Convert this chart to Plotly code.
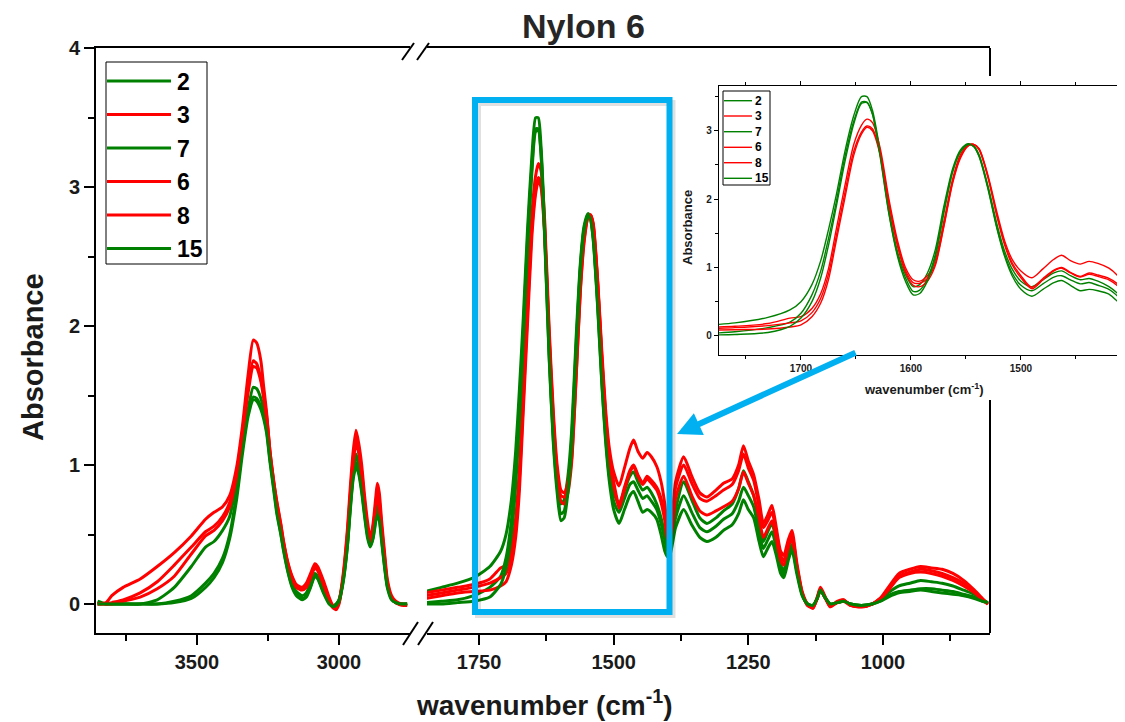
import plotly.graph_objects as go

W, H = 1125, 722
FONT = "Liberation Sans, Arial, sans-serif"
OFF = 8  # page body margin in the browser


def px(x):
    return (x - OFF) / W


def py(y):
    return 1 - (y - OFF) / H


# ---------------- data ----------------
NAMES = ["2", "3", "7", "6", "8", "15"]
COLORS = ["#008000", "#FF0000", "#008000", "#FF0000", "#FF0000", "#008000"]

LEFT_WN = [3850, 3820, 3800, 3760, 3700, 3640, 3580, 3520, 3470, 3440, 3410, 3385, 3360, 3340, 3320,
           3302, 3290, 3275, 3265, 3255, 3243, 3230, 3219, 3205, 3195, 3180, 3165, 3150, 3130, 3115,
           3100, 3085, 3075, 3055, 3035, 3020, 3010, 3000, 2985, 2970, 2960, 2950, 2940, 2930, 2920,
           2910, 2900, 2890, 2880, 2870, 2865, 2858, 2850, 2840, 2830, 2815, 2800, 2780, 2760]

RIGHT_WN = [1850, 1820, 1790, 1760, 1730, 1710, 1700, 1690, 1682, 1675, 1668, 1660, 1652, 1645, 1640,
            1635, 1628, 1620, 1612, 1605, 1598, 1592, 1585, 1578, 1570, 1562, 1555, 1548, 1543, 1538,
            1530, 1522, 1515, 1508, 1500, 1490, 1480, 1470, 1463, 1455, 1446, 1438, 1430, 1420, 1412,
            1405, 1400, 1395, 1385, 1370, 1355, 1340, 1327, 1310, 1296, 1280, 1268, 1259, 1250, 1240,
            1230, 1222, 1214, 1206, 1198, 1190, 1184, 1176, 1169, 1160, 1150, 1140, 1130, 1122, 1116,
            1108, 1098, 1085, 1073, 1060, 1040, 1020, 1005, 990, 970, 950, 930, 910, 890, 870,
            850, 830, 815, 805]

S2_LEFT = [0.02, 0.00, 0.00, 0.00, 0.00, 0.03, 0.12, 0.27, 0.41, 0.45, 0.53, 0.63, 0.88, 1.12, 1.40,
           1.56, 1.55, 1.48, 1.40, 1.29, 1.06, 0.86, 0.69, 0.53, 0.41, 0.26, 0.15, 0.09, 0.06, 0.08,
           0.15, 0.22, 0.20, 0.10, 0.02, -0.01, 0.00, 0.03, 0.18, 0.45, 0.72, 0.95, 1.08, 1.00, 0.86,
           0.68, 0.52, 0.43, 0.50, 0.66, 0.72, 0.66, 0.50, 0.30, 0.14, 0.04, 0.01, 0.00, 0.00]
S3_LEFT = [0.00, 0.01, 0.06, 0.12, 0.18, 0.27, 0.37, 0.49, 0.61, 0.66, 0.70, 0.78, 0.99, 1.28, 1.65,
           1.90, 1.88, 1.75, 1.56, 1.38, 1.10, 0.88, 0.74, 0.58, 0.45, 0.30, 0.20, 0.14, 0.12, 0.15,
           0.22, 0.29, 0.27, 0.17, 0.05, -0.02, -0.03, 0.02, 0.22, 0.55, 0.85, 1.10, 1.25, 1.15, 1.00,
           0.78, 0.60, 0.47, 0.58, 0.78, 0.87, 0.80, 0.60, 0.38, 0.18, 0.06, 0.02, 0.00, 0.00]
S7_LEFT = [0.01, 0.00, 0.00, 0.00, 0.00, 0.00, 0.02, 0.06, 0.15, 0.22, 0.33, 0.50, 0.80, 1.12, 1.38,
           1.49, 1.48, 1.42, 1.35, 1.25, 1.04, 0.84, 0.67, 0.51, 0.39, 0.24, 0.13, 0.07, 0.04, 0.06,
           0.13, 0.21, 0.19, 0.09, 0.01, -0.01, 0.00, 0.03, 0.17, 0.43, 0.70, 0.92, 1.02, 0.95, 0.82,
           0.65, 0.50, 0.42, 0.48, 0.62, 0.67, 0.62, 0.47, 0.28, 0.13, 0.04, 0.01, 0.00, 0.00]
S6_LEFT = [0.00, 0.00, 0.01, 0.03, 0.08, 0.16, 0.28, 0.41, 0.52, 0.56, 0.63, 0.73, 0.95, 1.24, 1.56,
           1.75, 1.73, 1.62, 1.50, 1.36, 1.10, 0.89, 0.73, 0.57, 0.44, 0.29, 0.19, 0.13, 0.11, 0.13,
           0.20, 0.27, 0.25, 0.15, 0.03, -0.02, -0.03, 0.01, 0.20, 0.52, 0.80, 1.05, 1.19, 1.10, 0.95,
           0.74, 0.56, 0.45, 0.55, 0.73, 0.80, 0.74, 0.56, 0.35, 0.16, 0.05, 0.01, 0.00, -0.01]
S8_LEFT = [0.00, 0.00, 0.00, 0.02, 0.05, 0.11, 0.20, 0.36, 0.49, 0.53, 0.60, 0.70, 0.93, 1.22, 1.52,
           1.71, 1.70, 1.60, 1.48, 1.34, 1.08, 0.87, 0.71, 0.55, 0.43, 0.28, 0.18, 0.12, 0.10, 0.12,
           0.19, 0.26, 0.24, 0.14, 0.02, -0.03, -0.04, 0.00, 0.19, 0.50, 0.78, 1.02, 1.16, 1.08, 0.93,
           0.72, 0.54, 0.44, 0.53, 0.71, 0.77, 0.71, 0.54, 0.33, 0.15, 0.04, 0.01, -0.01, -0.01]
S15_LEFT = [0.00, 0.00, 0.00, 0.00, 0.00, 0.00, 0.01, 0.04, 0.12, 0.19, 0.30, 0.47, 0.76, 1.08, 1.35,
            1.47, 1.46, 1.40, 1.33, 1.23, 1.02, 0.82, 0.65, 0.50, 0.38, 0.23, 0.12, 0.06, 0.03, 0.05,
            0.12, 0.20, 0.18, 0.08, 0.00, -0.02, -0.01, 0.02, 0.16, 0.42, 0.68, 0.90, 0.99, 0.93, 0.80,
            0.63, 0.48, 0.41, 0.47, 0.60, 0.64, 0.60, 0.45, 0.27, 0.12, 0.03, 0.01, 0.00, 0.00]

S2_RIGHT = [0.09, 0.12, 0.15, 0.19, 0.27, 0.38, 0.50, 0.75, 1.10, 1.55,
            2.05, 2.70, 3.22, 3.50, 3.50, 3.30, 2.70, 1.85, 1.22, 0.90,
            0.72, 0.75, 0.92, 1.25, 1.90, 2.45, 2.72, 2.81, 2.78, 2.65,
            2.20, 1.65, 1.25, 0.98, 0.80, 0.72, 0.82, 0.92, 0.95, 0.88,
            0.82, 0.84, 0.80, 0.72, 0.62, 0.50, 0.42, 0.45, 0.68, 0.88,
            0.75, 0.62, 0.58, 0.62, 0.67, 0.72, 0.83, 0.96, 0.88, 0.78,
            0.60, 0.45, 0.52, 0.58, 0.45, 0.28, 0.24, 0.36, 0.43, 0.25,
            0.07, 0.00, -0.01, 0.04, 0.10, 0.05, 0.00, 0.01, 0.02, 0.00,
            -0.01, 0.00, 0.03, 0.08, 0.13, 0.15, 0.17, 0.16, 0.15, 0.13,
            0.10, 0.07, 0.03, 0.01]
S3_RIGHT = [0.08, 0.10, 0.12, 0.14, 0.18, 0.26, 0.28, 0.40, 0.62, 0.98,
            1.55, 2.20, 2.80, 3.08, 3.17, 3.12, 2.75, 2.00, 1.38, 1.00,
            0.82, 0.80, 0.88, 1.10, 1.68, 2.30, 2.65, 2.79, 2.80, 2.74,
            2.35, 1.82, 1.40, 1.12, 0.95, 0.85, 0.98, 1.12, 1.18, 1.10,
            1.05, 1.09, 1.06, 0.99, 0.88, 0.72, 0.55, 0.50, 0.88, 1.06,
            0.92, 0.80, 0.77, 0.82, 0.87, 0.90, 1.00, 1.14, 1.03, 0.93,
            0.75, 0.58, 0.64, 0.71, 0.55, 0.38, 0.35, 0.46, 0.53, 0.30,
            0.09, 0.00, -0.03, 0.05, 0.12, 0.06, -0.02, 0.02, 0.03, -0.01,
            -0.02, 0.00, 0.04, 0.12, 0.22, 0.25, 0.27, 0.26, 0.25, 0.22,
            0.17, 0.10, 0.04, 0.00]
S7_RIGHT = [0.01, 0.02, 0.03, 0.06, 0.12, 0.20, 0.33, 0.60, 0.95, 1.42,
            1.95, 2.62, 3.14, 3.42, 3.42, 3.25, 2.65, 1.80, 1.18, 0.85,
            0.65, 0.67, 0.84, 1.18, 1.84, 2.42, 2.70, 2.80, 2.77, 2.63,
            2.17, 1.60, 1.20, 0.92, 0.74, 0.66, 0.76, 0.86, 0.88, 0.82,
            0.76, 0.78, 0.74, 0.68, 0.58, 0.46, 0.38, 0.40, 0.62, 0.78,
            0.66, 0.55, 0.52, 0.56, 0.61, 0.65, 0.74, 0.84, 0.78, 0.70,
            0.52, 0.40, 0.46, 0.52, 0.40, 0.25, 0.21, 0.33, 0.41, 0.24,
            0.07, 0.00, -0.01, 0.04, 0.10, 0.05, 0.00, 0.01, 0.02, 0.00,
            -0.01, 0.00, 0.02, 0.06, 0.09, 0.10, 0.11, 0.11, 0.10, 0.09,
            0.07, 0.05, 0.02, 0.01]
S6_RIGHT = [0.06, 0.08, 0.10, 0.12, 0.15, 0.19, 0.22, 0.34, 0.55, 0.90,
            1.45, 2.10, 2.70, 2.98, 3.07, 3.03, 2.68, 1.95, 1.33, 0.96,
            0.78, 0.77, 0.84, 1.05, 1.62, 2.26, 2.62, 2.78, 2.80, 2.73,
            2.33, 1.78, 1.36, 1.07, 0.88, 0.71, 0.84, 0.96, 1.00, 0.93,
            0.87, 0.92, 0.89, 0.84, 0.76, 0.64, 0.50, 0.48, 0.84, 1.00,
            0.87, 0.76, 0.74, 0.78, 0.82, 0.86, 0.96, 1.08, 0.98, 0.89,
            0.70, 0.55, 0.60, 0.66, 0.52, 0.35, 0.31, 0.43, 0.50, 0.28,
            0.08, -0.01, -0.03, 0.04, 0.11, 0.05, -0.02, 0.01, 0.03, -0.01,
            -0.02, 0.00, 0.04, 0.10, 0.20, 0.23, 0.25, 0.24, 0.22, 0.19,
            0.15, 0.09, 0.03, 0.00]
S8_RIGHT = [0.04, 0.06, 0.08, 0.09, 0.10, 0.13, 0.16, 0.28, 0.48, 0.82,
            1.38, 2.02, 2.64, 2.95, 3.05, 3.00, 2.65, 1.92, 1.30, 0.93,
            0.74, 0.72, 0.80, 1.02, 1.60, 2.24, 2.60, 2.78, 2.80, 2.72,
            2.32, 1.76, 1.34, 1.04, 0.85, 0.69, 0.82, 0.95, 0.99, 0.92,
            0.86, 0.90, 0.87, 0.82, 0.73, 0.60, 0.47, 0.46, 0.76, 0.92,
            0.78, 0.67, 0.64, 0.67, 0.70, 0.74, 0.83, 0.95, 0.87, 0.78,
            0.62, 0.48, 0.54, 0.60, 0.47, 0.31, 0.28, 0.40, 0.48, 0.27,
            0.08, -0.01, -0.02, 0.04, 0.11, 0.05, -0.01, 0.01, 0.02, -0.01,
            -0.02, 0.00, 0.04, 0.10, 0.19, 0.22, 0.23, 0.22, 0.20, 0.17,
            0.13, 0.08, 0.03, 0.00]
S15_RIGHT = [0.00, 0.00, 0.01, 0.02, 0.05, 0.14, 0.26, 0.50, 0.85, 1.32,
             1.88, 2.55, 3.10, 3.40, 3.41, 3.24, 2.62, 1.78, 1.15, 0.80,
             0.60, 0.62, 0.80, 1.14, 1.80, 2.40, 2.69, 2.80, 2.77, 2.62,
             2.15, 1.58, 1.17, 0.88, 0.68, 0.58, 0.68, 0.78, 0.81, 0.74,
             0.66, 0.68, 0.66, 0.61, 0.50, 0.38, 0.34, 0.36, 0.55, 0.68,
             0.57, 0.48, 0.45, 0.48, 0.53, 0.57, 0.65, 0.75, 0.68, 0.62,
             0.45, 0.34, 0.40, 0.45, 0.35, 0.22, 0.19, 0.31, 0.39, 0.22,
             0.06, 0.00, -0.01, 0.04, 0.10, 0.05, 0.00, 0.01, 0.02, 0.00,
             -0.01, 0.00, 0.02, 0.05, 0.08, 0.09, 0.10, 0.09, 0.08, 0.07,
             0.06, 0.04, 0.02, 0.01]

LEFT_SERIES = [S2_LEFT, S3_LEFT, S7_LEFT, S6_LEFT, S8_LEFT, S15_LEFT]
RIGHT_SERIES = [S2_RIGHT, S3_RIGHT, S7_RIGHT, S6_RIGHT, S8_RIGHT, S15_RIGHT]

MAIN_X_TICKS_L = [3500, 3000]
MAIN_X_MINOR_L = [3750, 3250]
MAIN_X_TICKS_R = [1750, 1500, 1250, 1000]
MAIN_X_MINOR_R = [1625, 1375, 1125, 875]
INSET_X_TICKS = [1700, 1600, 1500]
INSET_X_MINOR = [1750, 1650, 1550, 1450]
INSET_WN_MIN, INSET_WN_MAX = 1390, 1790

# ---------------- figure ----------------
fig = go.Figure()

for i, name in enumerate(NAMES):
    fig.add_trace(go.Scatter(
        x=LEFT_WN, y=LEFT_SERIES[i], name=name, mode="lines",
        line=dict(color=COLORS[i], width=3, shape="spline", smoothing=0.6),
        xaxis="x", yaxis="y", showlegend=False))
for i, name in enumerate(NAMES):
    fig.add_trace(go.Scatter(
        x=RIGHT_WN, y=RIGHT_SERIES[i], name=name, mode="lines",
        line=dict(color=COLORS[i], width=3, shape="spline", smoothing=0.6),
        xaxis="x2", yaxis="y", showlegend=False))
for i, name in enumerate(NAMES):
    pts = [(w, v) for w, v in zip(RIGHT_WN, RIGHT_SERIES[i]) if INSET_WN_MIN <= w <= INSET_WN_MAX]
    fig.add_trace(go.Scatter(
        x=[p[0] for p in pts], y=[p[1] for p in pts], name=name, mode="lines",
        line=dict(color=COLORS[i], width=1.4, shape="spline", smoothing=0.8),
        xaxis="x3", yaxis="y2", showlegend=False))

tick_font = dict(family=FONT, size=20, color="#1a1a1a", weight="bold")
small_font = dict(family=FONT, size=10, color="#1a1a1a", weight="bold")

main_x_common = dict(showline=True, linecolor="black", linewidth=2, mirror=True,
                     ticks="outside", ticklen=10, tickwidth=2, tickcolor="black",
                     showgrid=False, zeroline=False, tickfont=tick_font, anchor="y")

fig.update_layout(
    width=W, height=H,
    margin=dict(l=0, r=0, t=0, b=0, pad=0, autoexpand=False),
    paper_bgcolor="white", plot_bgcolor="white",
    showlegend=False,
    xaxis=dict(domain=[px(96), px(410)], range=[3855.6, 2750],
               tickmode="array", tickvals=MAIN_X_TICKS_L,
               minor=dict(tickmode="array", tickvals=MAIN_X_MINOR_L, ticks="outside",
                          ticklen=6, tickwidth=2, tickcolor="black"),
               **main_x_common),
    xaxis2=dict(domain=[px(427), px(990)], range=[1846.7, 801.1],
                tickmode="array", tickvals=MAIN_X_TICKS_R,
                minor=dict(tickmode="array", tickvals=MAIN_X_MINOR_R, ticks="outside",
                           ticklen=6, tickwidth=2, tickcolor="black"),
                **main_x_common),
    yaxis=dict(domain=[py(633), py(48)], range=[-0.2086, 4.002], anchor="x",
               showline=True, linecolor="black", linewidth=2,
               ticks="outside", ticklen=10, tickwidth=2, tickcolor="black",
               tick0=0, dtick=1,
               minor=dict(dtick=0.5, tick0=0, ticks="outside", ticklen=6, tickwidth=2,
                          tickcolor="black"),
               showgrid=False, zeroline=False, tickfont=tick_font),
    xaxis3=dict(domain=[px(719), 1.0], range=[1774.5, 1398.1], anchor="y2",
                showline=True, linecolor="black", linewidth=1.3, mirror="allticks",
                ticks="outside", ticklen=4, tickwidth=1, tickcolor="black",
                tickmode="array", tickvals=INSET_X_TICKS,
                minor=dict(tickmode="array", tickvals=INSET_X_MINOR, ticks="outside",
                           ticklen=2.5, tickwidth=1, tickcolor="black"),
                showgrid=False, zeroline=False, tickfont=small_font),
    yaxis2=dict(domain=[py(355), py(86)], range=[-0.28, 3.655], anchor="x3",
                showline=True, linecolor="black", linewidth=1.3,
                ticks="outside", ticklen=4, tickwidth=1, tickcolor="black",
                tick0=0, dtick=1,
                minor=dict(dtick=0.5, tick0=0, ticks="outside", ticklen=2.5, tickwidth=1,
                           tickcolor="black"),
                showgrid=False, zeroline=False, tickfont=small_font),
)

shapes = []
annotations = []
# main right spine (hidden behind the inset region)
for y0, y1 in [(48, 76), (400, 633)]:
    shapes.append(dict(type="line", xref="paper", yref="paper",
                       x0=px(990), x1=px(990), y0=py(y0), y1=py(y1),
                       line=dict(color="black", width=2)))
# axis break marks
for (x0, y0, x1, y1) in [(403, 645, 418, 622), (418, 645, 433, 622),
                         (402, 60, 414, 43), (417, 60, 429, 43)]:
    shapes.append(dict(type="line", xref="paper", yref="paper",
                       x0=px(x0), y0=py(y0), x1=px(x1), y1=py(y1),
                       line=dict(color="black", width=2)))
# highlight rectangle (shadow + blue)
shapes.append(dict(type="rect", xref="paper", yref="paper",
                   x0=px(478), x1=px(672.5), y0=py(615), y1=py(103),
                   line=dict(color="rgba(0,0,0,0.12)", width=6)))
shapes.append(dict(type="rect", xref="paper", yref="paper",
                   x0=px(475), x1=px(669.5), y0=py(612), y1=py(100),
                   line=dict(color="#00B0F0", width=6)))

# main legend (box, line samples, labels)
shapes.append(dict(type="rect", xref="paper", yref="paper",
                   x0=px(106), x1=px(207), y0=py(264), y1=py(62),
                   line=dict(color="black", width=1), fillcolor="white"))
main_leg_y = [81, 114.5, 148, 181.5, 215, 248.5]
for i, name in enumerate(NAMES):
    yy = main_leg_y[i]
    shapes.append(dict(type="line", xref="paper", yref="paper",
                       x0=px(107), x1=px(171), y0=py(yy), y1=py(yy),
                       line=dict(color=COLORS[i], width=3)))
    annotations.append(dict(xref="paper", yref="paper", x=px(175), y=py(yy + 1),
                            xanchor="left", yanchor="middle", text=name, showarrow=False,
                            font=dict(family=FONT, size=23, color="black", weight="bold")))

# inset legend
shapes.append(dict(type="rect", xref="paper", yref="paper",
                   x0=px(723), x1=px(770), y0=py(185), y1=py(91),
                   line=dict(color="black", width=1), fillcolor="white"))
inset_leg_y = [100.7, 116, 131.7, 147.3, 162.7, 178.3]
for i, name in enumerate(NAMES):
    yy = inset_leg_y[i]
    shapes.append(dict(type="line", xref="paper", yref="paper",
                       x0=px(724), x1=px(752), y0=py(yy), y1=py(yy),
                       line=dict(color=COLORS[i], width=1.4)))
    annotations.append(dict(xref="paper", yref="paper", x=px(753), y=py(yy),
                            xanchor="left", yanchor="middle", text=name, showarrow=False,
                            font=dict(family=FONT, size=12, color="black", weight="bold")))

# titles
annotations += [
    dict(xref="paper", yref="paper", x=px(583), y=py(26), text="Nylon 6", showarrow=False,
         xanchor="center", yanchor="middle",
         font=dict(family=FONT, size=34, color="#262626", weight="bold")),
    dict(xref="paper", yref="paper", x=px(544), y=py(703), text="wavenumber (cm<sup>-1</sup>)",
         showarrow=False, xanchor="center", yanchor="middle",
         font=dict(family=FONT, size=28, color="#1a1a1a", weight="bold")),
    dict(xref="paper", yref="paper", x=px(33), y=py(357), text="Absorbance", textangle=-90,
         showarrow=False, xanchor="center", yanchor="middle",
         font=dict(family=FONT, size=29, color="#1a1a1a", weight="bold")),
    dict(xref="paper", yref="paper", x=px(924), y=py(389), text="wavenumber (cm<sup>-1</sup>)",
         showarrow=False, xanchor="center", yanchor="middle",
         font=dict(family=FONT, size=13, color="#1a1a1a", weight="bold")),
    dict(xref="paper", yref="paper", x=px(688), y=py(228), text="Absorbance", textangle=-90,
         showarrow=False, xanchor="center", yanchor="middle",
         font=dict(family=FONT, size=13, color="#1a1a1a", weight="bold")),
    # arrow from the inset to the highlighted region
    dict(xref="paper", yref="paper", x=px(677), y=py(434), ax=180, ay=-82,
         axref="pixel", ayref="pixel", text="", showarrow=True,
         arrowhead=2, arrowsize=0.8, arrowwidth=6, arrowcolor="#00B0F0", standoff=0),
]

fig.update_layout(shapes=shapes, annotations=annotations)
fig.write_html("out.html")
